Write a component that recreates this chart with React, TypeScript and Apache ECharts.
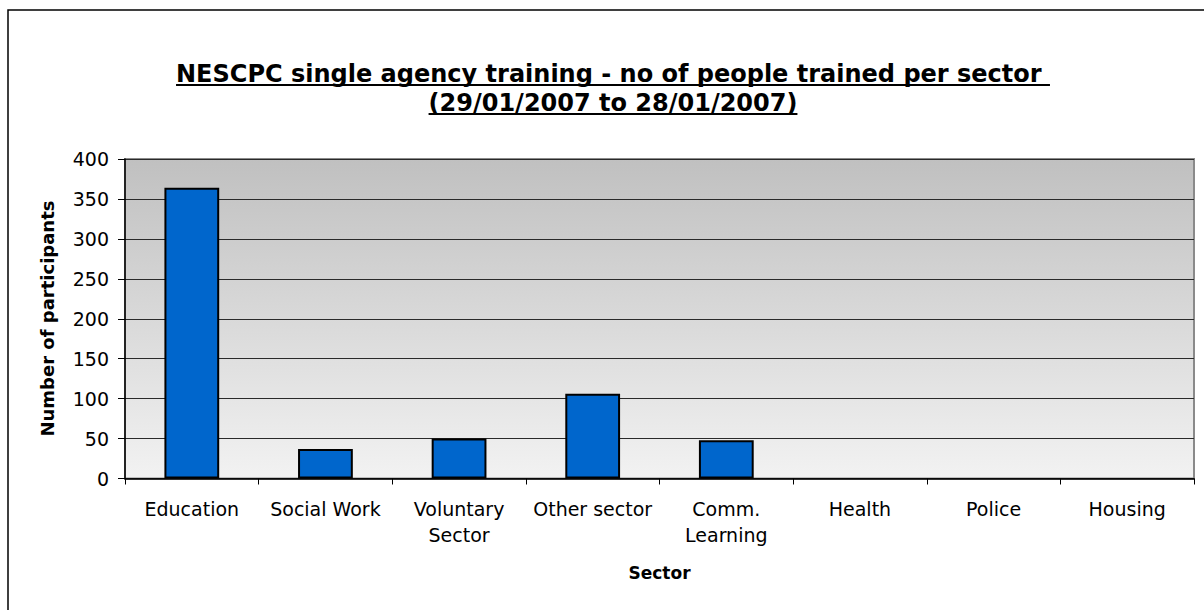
import React, { useEffect, useRef } from "react";
import * as echarts from "echarts";

const categories = [
  "Education",
  "Social Work",
  "Voluntary\nSector",
  "Other sector",
  "Comm.\nLearning",
  "Health",
  "Police",
  "Housing",
];
const participants = [364, 37, 50, 106, 48, 0, 0, 0];
const titleLine1 = "NESCPC single agency training - no of people trained per sector ";
const titleLine2 = "(29/01/2007 to 28/01/2007)";
const yAxisTitle = "Number of participants";
const xAxisTitle = "Sector";

const FONT = '"DejaVu Sans", "Liberation Sans", Arial, sans-serif';

function measure(text: string, font: string): number {
  const c = document.createElement("canvas");
  const ctx = c.getContext("2d");
  if (!ctx) return text.length * 14;
  ctx.font = font;
  return ctx.measureText(text).width;
}

export default function App() {
  const ref = useRef<HTMLDivElement>(null);
  useEffect(() => {
    if (!ref.current) return;
    const chart = echarts.init(ref.current, null, { renderer: "svg" });
    const titleSize = 24;
    const titleFont = `bold ${titleSize}px ${FONT}`;
    const w1 = measure(titleLine1, titleFont);
    const w2 = measure(titleLine2, titleFont);
    const cx = 613;
    const y1 = 74;
    const y2 = 103;
    const ul = 11;

    chart.setOption({
      animation: false,
      backgroundColor: "#ffffff",
      grid: {
        left: 125,
        right: 10,
        top: 159,
        bottom: 131.5,
        show: true,
        borderColor: "#8a8a8a",
        borderWidth: 2,
        backgroundColor: {
          type: "linear",
          x: 0,
          y: 0,
          x2: 0,
          y2: 1,
          colorStops: [
            { offset: 0, color: "#c0c0c0" },
            { offset: 1, color: "#f2f2f2" },
          ],
        },
      },
      xAxis: {
        type: "category",
        data: categories,
        boundaryGap: true,
        axisLine: { show: true, lineStyle: { color: "#000", width: 1.5 } },
        axisTick: { show: true, alignWithLabel: false, length: 6, lineStyle: { color: "#000", width: 1 } },
        axisLabel: {
          color: "#000",
          fontFamily: FONT,
          fontSize: 19,
          lineHeight: 26,
          margin: 17,
          interval: 0,
        },
        splitLine: { show: false },
      },
      yAxis: {
        type: "value",
        min: 0,
        max: 400,
        interval: 50,
        axisLine: { show: true, lineStyle: { color: "#000", width: 1.5 } },
        axisTick: { show: true, length: 7, lineStyle: { color: "#000", width: 1 } },
        axisLabel: {
          color: "#000",
          fontFamily: FONT,
          fontSize: 19,
          margin: 16,
        },
        splitLine: { show: true, lineStyle: { color: "#2a2a2a", width: 1 } },
      },
      series: [
        {
          type: "bar",
          data: participants.map((v) =>
            v === 0 ? { value: v, itemStyle: { borderWidth: 0, opacity: 0 } } : v
          ),
          barCategoryGap: "59%",
          itemStyle: { color: "#0066CC", borderColor: "#000", borderWidth: 2 },
        },
      ],
      graphic: [
        {
          type: "rect",
          shape: { x: 8, y: 10, width: 1300, height: 700 },
          style: { fill: "none", stroke: "#000", lineWidth: 1.5 },
          silent: true,
          z: -1,
        },
        {
          type: "text",
          x: cx,
          y: y1,
          style: {
            text: titleLine1,
            font: titleFont,
            fill: "#000",
            align: "center",
            verticalAlign: "middle",
          },
        },
        {
          type: "line",
          shape: { x1: cx - w1 / 2, y1: y1 + ul, x2: cx + w1 / 2, y2: y1 + ul },
          style: { stroke: "#000", lineWidth: 2 },
        },
        {
          type: "text",
          x: cx,
          y: y2,
          style: {
            text: titleLine2,
            font: titleFont,
            fill: "#000",
            align: "center",
            verticalAlign: "middle",
          },
        },
        {
          type: "line",
          shape: { x1: cx - w2 / 2, y1: y2 + ul, x2: cx + w2 / 2, y2: y2 + ul },
          style: { stroke: "#000", lineWidth: 2 },
        },
        {
          type: "text",
          x: 47,
          y: 318.5,
          rotation: Math.PI / 2,
          style: {
            text: yAxisTitle,
            font: `bold 18px ${FONT}`,
            fill: "#000",
            align: "center",
            verticalAlign: "middle",
          },
        },
        {
          type: "text",
          x: 659.5,
          y: 573,
          style: {
            text: xAxisTitle,
            font: `bold 17px ${FONT}`,
            fill: "#000",
            align: "center",
            verticalAlign: "middle",
          },
        },
      ],
    });
    return () => chart.dispose();
  }, []);
  return (
    <div
      ref={ref}
      style={{ position: "absolute", left: 0, top: 0, width: 1204, height: 610 }}
    />
  );
}
